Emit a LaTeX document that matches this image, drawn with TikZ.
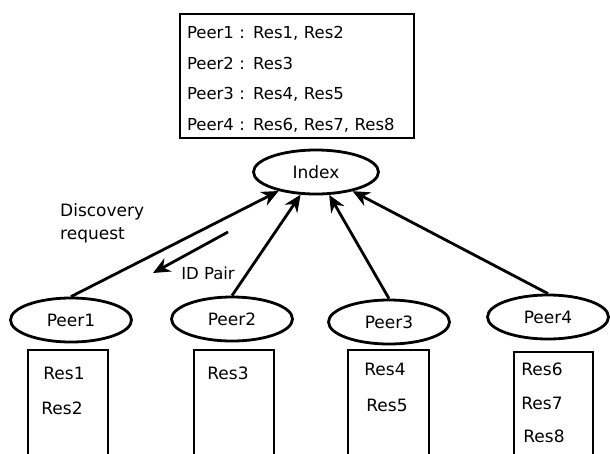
\documentclass[tikz,border=0pt]{standalone}
\usepackage{fontspec}
\setmainfont{DejaVu Sans}
\usetikzlibrary{arrows.meta,shapes.geometric}

\begin{document}
\begin{tikzpicture}[
  x=1pt,y=-1pt,
  peer/.style={draw,ellipse,line width=2.8pt,minimum width=121pt,minimum height=44pt,
    inner sep=0pt,font=\fontsize{17}{19}\selectfont},
  table/.style={draw,line width=2.8pt,minimum width=234pt,minimum height=124pt,
    text width=220pt,inner xsep=7pt,align=left,font=\fontsize{16.5}{30.5}\selectfont},
  store/.style={line width=2.8pt},
  lbl/.style={inner sep=0pt,font=\fontsize{17}{23}\selectfont},
  arr/.style={-{Stealth[length=17pt,width=15pt]},line width=2.8pt}
]
\useasboundingbox (0,0) rectangle (610,453);
\node[table] (tbl) at (297,76) {\rule{0pt}{19pt}Peer1 : Res1, Res2\\ Peer2 : Res3\\ Peer3 : Res4, Res5\\ Peer4 : Res6, Res7, Res8};
\node[peer,minimum width=125pt] (idx) at (316,172) {Index};
\node[peer] (p1) at (71,320) {Peer1};
\node[peer] (p2) at (232,319) {Peer2};
\node[peer] (p3) at (389,322) {Peer3};
\node[peer] (p4) at (548,317) {Peer4};
% resource stores, open at the bottom
\draw[store] (28,455) |- (108,350) -- (108,455);
\draw[store] (194,455) |- (274,350) -- (274,455);
\draw[store] (348,455) |- (429,350) -- (429,455);
\draw[store] (514,455) |- (593,352) -- (593,455);
\node[lbl] (r1) at (64,373) {Res1};
\node[lbl] (r2) at (62,408) {Res2};
\node[lbl] (r3) at (228,373) {Res3};
\node[lbl] (r4) at (385,369) {Res4};
\node[lbl] (r5) at (387,405) {Res5};
\node[lbl] (r6) at (542,369) {Res6};
\node[lbl] (r7) at (542,403) {Res7};
\node[lbl] (r8) at (544,436) {Res8};
\draw[arr] (p1.north) -- (idx);
\draw[arr] (p2.north) -- (idx);
\draw[arr] (p3.north) -- (idx);
\draw[arr] (p4.north) -- (idx);
\node[lbl,anchor=west,align=left] (disc) at (60,223) {Discovery\\request};
\coordinate (idfrom) at (228,232);
\coordinate (idto) at (153,273);
\draw[arr] (idfrom) -- (idto);
\node[lbl,font=\fontsize{16.5}{20}\selectfont] (idp) at (208,273) {ID Pair};
\end{tikzpicture}
\end{document}
